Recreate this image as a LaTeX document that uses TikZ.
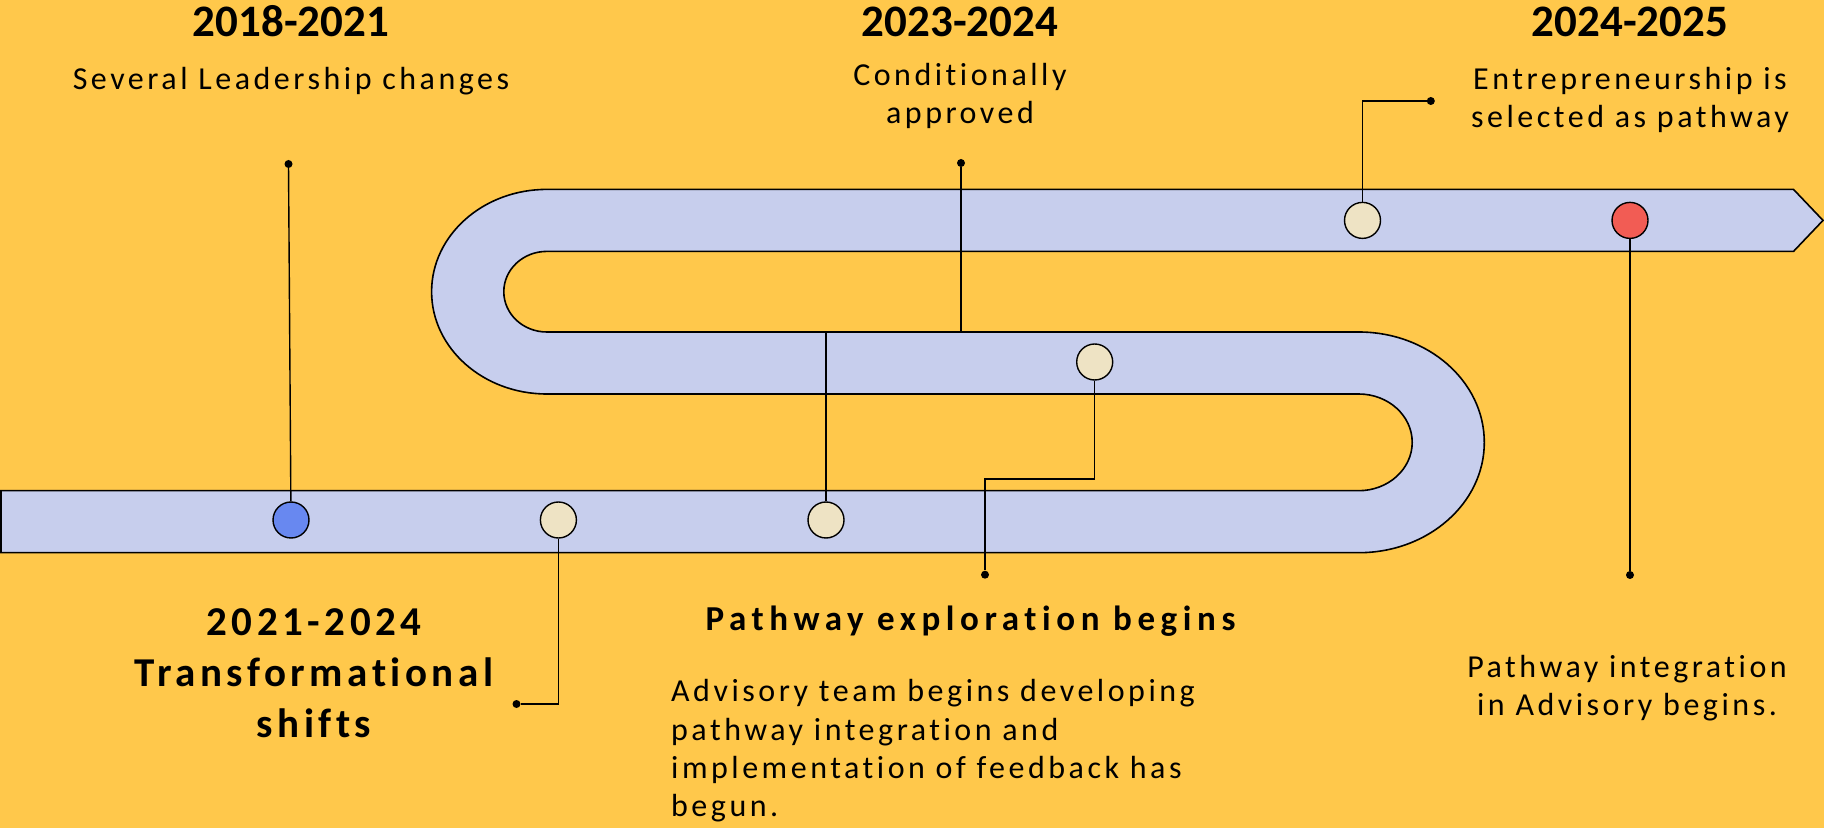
\documentclass[tikz,border=0pt]{standalone}
\usepackage{fontspec}
\setmainfont{Carlito}[Ligatures=NoCommon]
\newfontfamily\labelfont[LetterSpace=11,Ligatures=NoCommon]{Carlito}
\newfontfamily\headfont[LetterSpace=16,Ligatures=NoCommon]{Carlito}
\definecolor{Mustard}{RGB}{255,200,75}
\definecolor{Lavender}{RGB}{199,206,237}
\definecolor{Cream}{RGB}{238,227,196}
\definecolor{Cornflower}{RGB}{104,136,240}
\definecolor{Coral}{RGB}{242,92,84}

\newcommand{\drawmilestone}[4]{% Parameters: name, x, y, color
  \node[milestone,fill=#4] (#1) at (#2,#3) {};
}
\newcommand{\drawpindot}[3]{% Parameters: name, x, y
  \node[pindot] (#1) at (#2,#3) {};
}

\begin{document}
\begin{tikzpicture}[x=1pt,y=1pt,
    milestone/.style={circle,draw=black,line width=1.4pt,minimum size=36pt,inner sep=0pt},
    pindot/.style={circle,fill=black,minimum size=8pt,inner sep=0pt},
    leader/.style={draw=black,line width=1.4pt},
    band/.style={draw=black,line width=1.6pt,fill=Lavender},
    year/.style={font=\fontsize{45}{54}\selectfont\bfseries,anchor=base,inner sep=0pt},
    note/.style={font=\fontsize{32}{38}\selectfont\labelfont,align=center,anchor=base,inner sep=0pt}]
  \fill[Mustard] (0,0) rectangle (1824,828);
  % the winding road
  \draw[band] (1,337.3) -- (1358.7,337.3)
    arc[start angle=-90,end angle=90,x radius=53.5,y radius=48.35]
    -- (546.8,434)
    arc[start angle=270,end angle=90,x radius=115.2,y radius=102.3]
    -- (1793.5,638.6) -- (1823,607.6) -- (1793.5,576.6) -- (546.8,576.6)
    arc[start angle=90,end angle=270,x radius=43,y radius=40.3]
    -- (1358.7,496)
    arc[start angle=90,end angle=-90,x radius=125.6,y radius=110.35]
    -- (1,275.3) -- cycle;
  % milestones
  \drawmilestone{m1}{291}{308}{Cornflower}
  \drawmilestone{m2}{558.4}{308}{Cream}
  \drawmilestone{m3}{826}{308}{Cream}
  \drawmilestone{m4}{1094.7}{466}{Cream}
  \drawmilestone{m5}{1362.5}{607.6}{Cream}
  \drawmilestone{m6}{1630}{607.6}{Coral}
  \drawpindot{d1}{288.5}{664}
  \drawpindot{d2}{516.5}{124}
  \drawpindot{d3}{961}{665}
  \drawpindot{d4}{985}{253.3}
  \drawpindot{d5}{1430.8}{727}
  \drawpindot{d6}{1630}{253}
  \coordinate (k3) at (961,496.5);
  \coordinate (k4) at (985,349);
  \draw[leader] (m1) -- (d1);
  \draw[leader] (m2.south) |- (d2);
  \draw[leader] (m3.north) |- (k3) -- (d3);
  \draw[leader] (m4.south) |- (k4) -- (d4);
  \draw[leader] (m5.north) |- (d5);
  \draw[leader] (m6) -- (d6);
  % labels (base = last line)
  \node[year] (y1) at (291,791) {2018-2021};
  \node[note] (n1) at (291,738.7) {Several Leadership changes};
  \node[year] (y2) at (960,791) {2023-2024};
  \node[note] (n2) at (960,704) {Conditionally\\approved};
  \node[year] (y3) at (1630,791) {2024-2025};
  \node[note] (n3) at (1630,700.3) {Entrepreneurship is\\selected as pathway};
  \node[note,font=\fontsize{41}{51}\selectfont\labelfont\bfseries] (n4) at (314,91) {2021-2024\\Transformational\\shifts};
  \node[note,font=\fontsize{35}{40}\selectfont\headfont\bfseries] (n5) at (970.5,197.3) {Pathway exploration begins};
  \node[note,align=left,anchor=base west,font=\fontsize{32}{38.3}\selectfont\labelfont] (n6) at (671,11.3) {Advisory team begins developing\\pathway integration and\\implementation of feedback has\\begun.};
  \node[note] (n7) at (1627,113) {Pathway integration\\in Advisory begins.};
\end{tikzpicture}
\end{document}
